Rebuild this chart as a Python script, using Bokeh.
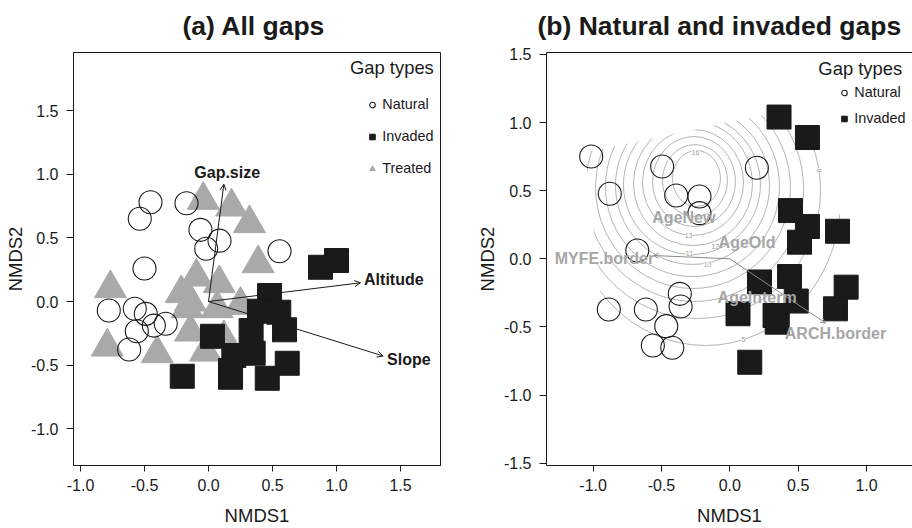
import numpy as np
from bokeh.plotting import figure
from bokeh.core.properties import value
from bokeh.models import (ColumnDataSource, LabelSet, Label, Arrow, OpenHead, Legend,
                          LegendItem, FixedTicker, PrintfTickFormatter, LinearAxis, Range1d)
from bokeh.layouts import row
from bokeh.embed import file_html
from bokeh.resources import INLINE

FONT = "Liberation Sans"
INK = "#1a1a1a"
GREY_PT = "#a9a9a9"
GREY_TXT = "#a6a6a6"
GREY_ARROW = "#8a8a8a"
GREY_CONTOUR = "#acacac"

# ---------------- Panel (a): all gaps ----------------
a_natural_x = [-0.453, -0.537, -0.172, -0.063, 0.086, -0.018, 0.555, -0.500,
               -0.779, -0.576, -0.490, -0.427, -0.334, -0.560, -0.620]
a_natural_y = [0.780, 0.650, 0.772, 0.563, 0.478, 0.414, 0.395, 0.259,
               -0.071, -0.057, -0.097, -0.189, -0.175, -0.233, -0.377]
a_invaded_x = [0.875, 1.000, 0.477, 0.398, 0.549, 0.594, 0.333, 0.031,
               0.349, 0.198, 0.615, 0.172, 0.172, 0.459, -0.205]
a_invaded_y = [0.269, 0.322, 0.047, -0.076, -0.084, -0.222, -0.228, -0.273,
               -0.406, -0.424, -0.485, -0.542, -0.595, -0.603, -0.587]
a_treated_x = [-0.041, 0.180, 0.320, 0.388, -0.094, 0.084, -0.766, -0.213, -0.141,
               -0.166, 0.068, 0.250, -0.141, 0.120, -0.791, -0.401, -0.023]
a_treated_y = [0.797, 0.744, 0.614, 0.299, 0.194, 0.142, 0.103, 0.064, -0.002,
               -0.054, -0.054, -0.028, -0.238, -0.290, -0.356, -0.408, -0.395]
a_vec_names = ["Gap.size", "Altitude", "Slope"]
a_vec_x = [0.120, 1.1875, 1.365]
a_vec_y = [0.921, 0.147, -0.428]
a_lab_x = [0.146, 1.448, 1.565]
a_lab_y = [1.010, 0.170, -0.458]
a_xticks = [-1.0, -0.5, 0.0, 0.5, 1.0, 1.5]
a_yticks = [-1.0, -0.5, 0.0, 0.5, 1.0, 1.5]
a_xrange = (-1.0547, 1.8125)
a_yrange = (-1.288, 1.956)

# ---------------- Panel (b): natural and invaded gaps ----------------
b_natural_x = [-1.014, -0.878, -0.495, -0.392, -0.222, -0.222, 0.198, -0.677,
               -0.366, -0.360, -0.885, -0.614, -0.465, -0.563, -0.421]
b_natural_y = [0.751, 0.477, 0.677, 0.464, 0.457, 0.335, 0.668, 0.061,
               -0.257, -0.350, -0.372, -0.372, -0.494, -0.636, -0.653]
b_invaded_x = [0.360, 0.568, 0.444, 0.568, 0.788, 0.510, 0.217, 0.437,
               0.851, 0.486, 0.773, 0.060, 0.331, 0.347, 0.146]
b_invaded_y = [1.040, 0.890, 0.354, 0.237, 0.202, 0.122, -0.170, -0.130,
               -0.208, -0.310, -0.367, -0.403, -0.416, -0.465, -0.759]
b_vec_names = ["MYFE.border", "ARCH.border"]
b_vec_x = [-0.558, 0.700]
b_vec_y = [0.024, -0.471]
b_lab_names = ["MYFE.border", "AgeNew", "AgeOld", "AgeInterm", "ARCH.border"]
b_lab_x = [-0.917, -0.336, 0.126, 0.200, 0.773]
b_lab_y = [0.002, 0.305, 0.122, -0.284, -0.550]
# fitted surface contours (ordisurf), each level approximated by an ellipse
contour_levels = [16, 15, 14, 13, 12, 11, 10, 9, 8, 7, 6, 5]
contour_cx = [-0.244, -0.255, -0.262, -0.269, -0.269, -0.277, -0.273, -0.273, -0.269, -0.258, -0.236, -0.178]
contour_cy = [0.589, 0.574, 0.567, 0.560, 0.552, 0.545, 0.538, 0.530, 0.523, 0.516, 0.501, 0.428]
contour_w = [0.351, 0.476, 0.607, 0.739, 0.871, 1.002, 1.127, 1.273, 1.426, 1.595, 1.800, 1.975]
contour_h = [0.411, 0.528, 0.660, 0.778, 0.910, 1.027, 1.159, 1.321, 1.482, 1.658, 1.878, 2.128]
contour_lab_text = ["16", "13", "12", "11", "10", "6", "5"]
contour_lab_x = [-0.251, -0.302, -0.105, -0.295, -0.163, 0.653, 0.100]
contour_lab_y = [0.782, 0.171, 0.092, 0.039, -0.042, 0.648, -0.593]
contour_lab_angle = [0.0, 0.0, 0.0, 0.0, 0.0, 1.45, 0.0]
# convex hull of the sites, outside of which the surface is not drawn
hull_x = [-1.06, 0.37, 0.62, 0.84, 0.90, 0.82, 0.15, -0.43, -0.58, -0.93]
hull_y = [0.78, 1.08, 0.91, 0.21, -0.21, -0.45, -0.81, -0.70, -0.68, -0.40]
b_xticks = [-1.0, -0.5, 0.0, 0.5, 1.0]
b_yticks = [-1.5, -1.0, -0.5, 0.0, 0.5, 1.0, 1.5]
b_xrange = (-1.341, 1.3365)
b_yrange = (-1.5165, 1.5136)


def make_fig(title, xr, yr, width, border_left, border_right, title_offset):
    p = figure(width=width, height=528, x_range=Range1d(*xr), y_range=Range1d(*yr),
               output_backend="svg", toolbar_location=None, title=title,
               min_border_left=border_left, min_border_right=border_right,
               min_border_top=52, min_border_bottom=63)
    p.title.text_font = FONT
    p.title.text_font_size = "26.5px"
    p.title.text_font_style = "bold"
    p.title.text_color = INK
    p.title.align = "left"
    p.title.vertical_align = "top"
    p.title.offset = title_offset
    p.title.standoff = 19
    p.grid.visible = False
    p.background_fill_color = "white"
    p.border_fill_color = "white"
    return p


def style_axis(ax, ticks, label, label_standoff, axis_label_standoff, tick_out):
    ax.ticker = FixedTicker(ticks=ticks)
    ax.formatter = PrintfTickFormatter(format="%.1f")
    ax.axis_label = label
    ax.major_tick_in = 0
    ax.major_tick_out = tick_out
    ax.minor_tick_line_color = None
    ax.major_label_text_font = FONT
    ax.major_label_text_font_size = "16px"
    ax.major_label_text_color = INK
    ax.axis_label_text_font = FONT
    ax.axis_label_text_font_size = "18.5px"
    ax.axis_label_text_font_style = "normal"
    ax.axis_label_text_color = INK
    ax.major_label_standoff = label_standoff
    ax.axis_label_standoff = axis_label_standoff
    ax.axis_line_color = INK
    ax.major_tick_line_color = INK


def legend_for(p, items, vx, vy, spacing):
    leg = Legend(items=items, location=(vx, vy), border_line_color=None,
                 background_fill_alpha=0, padding=0, margin=0, spacing=spacing,
                 glyph_width=14, glyph_height=17, label_height=17, label_standoff=3,
                 label_text_font=FONT, label_text_font_size="14.4px",
                 label_text_color=INK)
    p.add_layout(leg)


# ---------------- build panel (a) ----------------
pa = make_fig("(a) All gaps", a_xrange, a_yrange, 460, 73, 20, 109)
pa.outline_line_color = INK
pa.outline_line_width = 1
style_axis(pa.xaxis[0], a_xticks, "NMDS1", 7, 11, 6)
style_axis(pa.yaxis[0], a_yticks, "NMDS2", 8, 2, 7)

r_tri = pa.scatter(a_treated_x, a_treated_y, marker="triangle", size=32,
                   fill_color=GREY_PT, line_color=GREY_PT)
r_sq = pa.scatter(a_invaded_x, a_invaded_y, marker="square", size=24,
                  fill_color=INK, line_color=INK)
r_circ = pa.scatter(a_natural_x, a_natural_y, marker="circle", size=23,
                    fill_color=None, line_color=INK, line_width=1.1)

a_arrow_src = ColumnDataSource(dict(x0=[0.0] * len(a_vec_x), y0=[0.0] * len(a_vec_y),
                                    x1=a_vec_x, y1=a_vec_y))
pa.add_layout(Arrow(end=OpenHead(size=6, line_color=INK, line_width=1),
                    x_start="x0", y_start="y0", x_end="x1", y_end="y1",
                    source=a_arrow_src, line_color=INK, line_width=1))
pa.add_layout(LabelSet(x="x", y="y", text="t",
                       source=ColumnDataSource(dict(x=a_lab_x, y=a_lab_y, t=a_vec_names)),
                       text_align="center", text_baseline="middle", text_font=value(FONT),
                       text_font_size="16px", text_font_style="bold", text_color=INK))

legend_for(pa, [LegendItem(label="Natural", renderers=[r_circ]),
                LegendItem(label="Invaded", renderers=[r_sq]),
                LegendItem(label="Treated", renderers=[r_tri])], 292.3, 288.5, 15)
pa.add_layout(Label(x=360.3, y=398.3, x_units="screen", y_units="screen", text="Gap types",
                    text_align="right", text_baseline="middle", text_font=FONT,
                    text_font_size="18.4px", text_color=INK))

# ---------------- build panel (b) ----------------
pb = make_fig("(b) Natural and invaded gaps", b_xrange, b_yrange, 452, 86, 0, -9)
pb.outline_line_color = None
style_axis(pb.xaxis[0], b_xticks, "NMDS1", 7, 11, 6)
style_axis(pb.yaxis[0], b_yticks, "NMDS2", 8, 3, 7)
top_axis = LinearAxis(ticker=FixedTicker(ticks=[]), major_tick_out=0, major_tick_in=0,
                      major_label_standoff=0, axis_line_color=INK, axis_line_width=1,
                      minor_tick_line_color=None, major_tick_line_color=None)
pb.add_layout(top_axis, "above")

pb.ellipse(x=contour_cx, y=contour_cy, width=contour_w, height=contour_h,
           fill_color=None, line_color=GREY_CONTOUR, line_width=0.9)
outer_x = [b_xrange[0] - 1, b_xrange[1] + 1, b_xrange[1] + 1, b_xrange[0] - 1]
outer_y = [b_yrange[0] - 1, b_yrange[0] - 1, b_yrange[1] + 1, b_yrange[1] + 1]
pb.multi_polygons(xs=[[[outer_x, hull_x]]], ys=[[[outer_y, hull_y]]],
                  fill_color="white", line_color=None)

rb_sq = pb.scatter(b_invaded_x, b_invaded_y, marker="square", size=24,
                   fill_color=INK, line_color=INK)
rb_circ = pb.scatter(b_natural_x, b_natural_y, marker="circle", size=23,
                     fill_color=None, line_color=INK, line_width=1.1)

pb.add_layout(LabelSet(x="x", y="y", text="t", angle="a",
                       source=ColumnDataSource(dict(x=contour_lab_x, y=contour_lab_y,
                                                    t=contour_lab_text, a=contour_lab_angle)),
                       text_align="center", text_baseline="middle", text_font=value(FONT),
                       text_font_size="7px", text_color="#9a9a9a",
                       background_fill_color="white"))

b_arrow_src = ColumnDataSource(dict(x0=[0.0] * len(b_vec_x), y0=[0.0] * len(b_vec_y),
                                    x1=b_vec_x, y1=b_vec_y))
pb.add_layout(Arrow(end=OpenHead(size=5, line_color=GREY_ARROW, line_width=1),
                    x_start="x0", y_start="y0", x_end="x1", y_end="y1",
                    source=b_arrow_src, line_color=GREY_ARROW, line_width=1))
pb.add_layout(LabelSet(x="x", y="y", text="t",
                       source=ColumnDataSource(dict(x=b_lab_x, y=b_lab_y, t=b_lab_names)),
                       text_align="center", text_baseline="middle", text_font=value(FONT),
                       text_font_size="16px", text_font_style="bold", text_color=GREY_TXT))

legend_for(pb, [LegendItem(label="Natural", renderers=[rb_circ]),
                LegendItem(label="Invaded", renderers=[rb_sq])], 291.3, 338.2, 9)
pb.add_layout(Label(x=355.7, y=396.7, x_units="screen", y_units="screen", text="Gap types",
                    text_align="right", text_baseline="middle", text_font=FONT,
                    text_font_size="18.4px", text_color=INK))

layout = row(pa, pb)
open("out.html", "w").write(file_html(layout, INLINE))
